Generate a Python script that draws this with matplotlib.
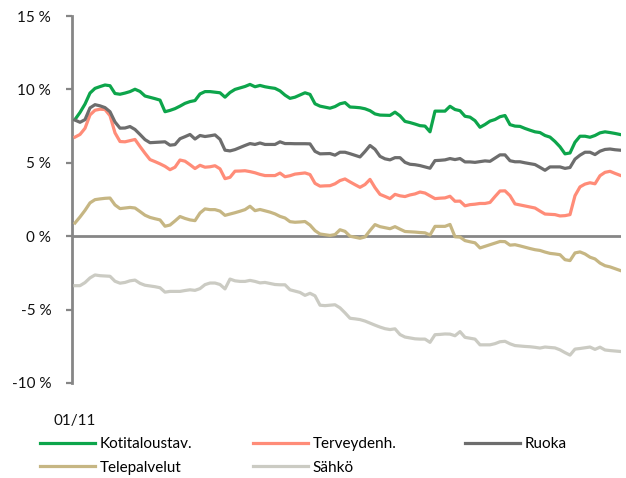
import numpy as np
import matplotlib
matplotlib.use("Agg")
import matplotlib.pyplot as plt

plt.rcParams['font.family'] = ['Lato', 'DejaVu Sans']

# ---- data (monthly, y/y %) ----
kotitaloustav = [7.95, 8.43, 9.0, 9.75, 10.07, 10.19, 10.3, 10.25, 9.72, 9.67,
                 9.75, 9.85, 10.01, 9.86, 9.55, 9.46, 9.37, 9.27, 8.48, 8.57,
                 8.69, 8.86, 9.05, 9.17, 9.24, 9.69, 9.85, 9.85, 9.81, 9.77,
                 9.47, 9.79, 10.0, 10.1, 10.2, 10.34, 10.18, 10.27, 10.18, 10.12,
                 10.07, 9.9, 9.61, 9.39, 9.47, 9.62, 9.77, 9.66, 9.02, 8.86,
                 8.79, 8.72, 8.83, 9.02, 9.1, 8.8, 8.78, 8.75, 8.68, 8.55,
                 8.33, 8.25, 8.24, 8.23, 8.45, 8.2, 7.82, 7.74, 7.64, 7.53,
                 7.5, 7.11, 8.52, 8.52, 8.52, 8.85, 8.63, 8.55, 8.17, 8.11,
                 7.87, 7.42, 7.61, 7.84, 7.95, 8.14, 8.22, 7.6, 7.5, 7.48,
                 7.34, 7.22, 7.11, 7.06, 6.86, 6.75, 6.45, 6.09, 5.61, 5.67,
                 6.4, 6.81, 6.81, 6.74, 6.86, 7.04, 7.11, 7.06, 7.0, 6.93]

terveydenh = [6.75, 6.93, 7.35, 8.26, 8.58, 8.65, 8.63, 8.21, 7.04, 6.45,
              6.43, 6.51, 6.59, 6.11, 5.65, 5.22, 5.08, 4.93, 4.76, 4.53,
              4.7, 5.19, 5.11, 4.87, 4.61, 4.83, 4.7, 4.73, 4.8, 4.59,
              3.92, 4.01, 4.43, 4.44, 4.46, 4.4, 4.32, 4.21, 4.13, 4.13,
              4.13, 4.3, 4.05, 4.12, 4.23, 4.27, 4.31, 4.2, 3.6, 3.41,
              3.43, 3.44, 3.57, 3.79, 3.9, 3.7, 3.51, 3.33, 3.52, 3.87,
              3.31, 2.85, 2.71, 2.56, 2.85, 2.75, 2.7, 2.81, 2.88, 3.01,
              2.94, 2.75, 2.56, 2.59, 2.61, 2.72, 2.38, 2.39, 2.07, 2.15,
              2.18, 2.23, 2.23, 2.3, 2.7, 3.08, 3.09, 2.76, 2.2, 2.13,
              2.06, 1.99, 1.92, 1.71, 1.51, 1.49, 1.47, 1.38, 1.4, 1.47,
              2.76, 3.36, 3.55, 3.64, 3.57, 4.12, 4.35, 4.42, 4.28, 4.15]

ruoka = [7.91, 7.76, 7.94, 8.74, 8.96, 8.88, 8.76, 8.48, 7.78, 7.36,
         7.37, 7.47, 7.27, 6.93, 6.58, 6.37, 6.39, 6.41, 6.43, 6.2,
         6.24, 6.64, 6.78, 6.93, 6.62, 6.86, 6.79, 6.84, 6.9, 6.6,
         5.86, 5.81, 5.9, 6.04, 6.18, 6.31, 6.25, 6.35, 6.25, 6.25,
         6.25, 6.43, 6.31, 6.31, 6.3, 6.3, 6.3, 6.29, 5.78, 5.61,
         5.62, 5.63, 5.52, 5.72, 5.72, 5.62, 5.51, 5.4, 5.77, 6.18,
         5.92, 5.44, 5.27, 5.2, 5.35, 5.35, 5.03, 4.9, 4.87, 4.81,
         4.72, 4.63, 5.15, 5.17, 5.2, 5.29, 5.22, 5.29, 5.06, 5.06,
         5.03, 5.08, 5.13, 5.1, 5.32, 5.54, 5.54, 5.14, 5.07, 5.07,
         5.0, 4.94, 4.88, 4.69, 4.49, 4.72, 4.72, 4.72, 4.62, 4.68,
         5.25, 5.52, 5.72, 5.72, 5.56, 5.79, 5.91, 5.94, 5.89, 5.86]

telepalvelut = [0.9, 1.31, 1.76, 2.27, 2.49, 2.54, 2.58, 2.6, 2.13, 1.88,
                1.92, 1.96, 1.92, 1.68, 1.43, 1.28, 1.19, 1.11, 0.68, 0.76,
                1.04, 1.34, 1.21, 1.11, 1.06, 1.58, 1.86, 1.81, 1.81, 1.71,
                1.42, 1.51, 1.6, 1.7, 1.81, 2.04, 1.74, 1.82, 1.73, 1.64,
                1.52, 1.35, 1.24, 0.99, 0.95, 0.97, 1.0, 0.76, 0.38, 0.15,
                0.1, 0.05, 0.11, 0.44, 0.33, 0.0, -0.07, -0.14, -0.05, 0.39,
                0.79, 0.65, 0.58, 0.51, 0.65, 0.48, 0.32, 0.3, 0.28, 0.25,
                0.23, 0.08, 0.67, 0.67, 0.67, 0.8, -0.04, -0.06, -0.3, -0.38,
                -0.45, -0.8, -0.69, -0.58, -0.47, -0.36, -0.37, -0.61, -0.58, -0.66,
                -0.75, -0.84, -0.92, -0.97, -1.08, -1.17, -1.21, -1.26, -1.6, -1.66,
                -1.14, -1.07, -1.21, -1.43, -1.55, -1.83, -2.01, -2.09, -2.21, -2.33]

sahko = [-3.37, -3.37, -3.16, -2.84, -2.64, -2.69, -2.71, -2.73, -3.07, -3.2,
         -3.15, -3.04, -2.99, -3.21, -3.34, -3.39, -3.44, -3.51, -3.81, -3.76,
         -3.76, -3.76, -3.7, -3.65, -3.69, -3.57, -3.3, -3.19, -3.19, -3.29,
         -3.59, -2.92, -3.04, -3.08, -3.08, -3.01, -3.08, -3.18, -3.15, -3.22,
         -3.29, -3.31, -3.31, -3.65, -3.74, -3.83, -4.03, -3.89, -4.06, -4.7,
         -4.73, -4.7, -4.67, -4.88, -5.22, -5.59, -5.63, -5.68, -5.78, -5.92,
         -6.06, -6.19, -6.3, -6.36, -6.31, -6.7, -6.87, -6.93, -6.99, -7.01,
         -7.01, -7.23, -6.71, -6.69, -6.66, -6.67, -6.78, -6.5, -6.89, -6.95,
         -7.01, -7.4, -7.4, -7.4, -7.32, -7.19, -7.16, -7.33, -7.45, -7.48,
         -7.51, -7.53, -7.57, -7.62, -7.55, -7.58, -7.61, -7.74, -7.93, -8.1,
         -7.69, -7.65, -7.6, -7.55, -7.71, -7.56, -7.75, -7.79, -7.82, -7.85]

series_names = ['Kotitaloustav.', 'Terveydenh.', 'Ruoka', 'Telepalvelut', 'Sähkö']
y_ticks = [-10, -5, 0, 5, 10, 15]
y_tick_labels = ['-10 %', '-5 %', '0 %', '5 %', '10 %', '15 %']
x_tick_labels = ['01/11']

colors = ['#0DA54B', '#FF8C78', '#6D6D6D', '#C6B683', '#CBCBC3']

months = np.arange(len(kotitaloustav))

fig = plt.figure(figsize=(6.26, 4.78), dpi=100)
W, H = 626, 478
ax = fig.add_axes([72 / W, 1 - 383 / H, 549 / W, 367 / H])

axis_col = '#868686'
ax.axhline(0, color=axis_col, lw=2.0, zorder=1.5)

lines = []
for vals, name, c in zip([kotitaloustav, terveydenh, ruoka, telepalvelut, sahko],
                         series_names, colors):
    ln, = ax.plot(months, vals, color=c, lw=2.3, label=name, zorder=3,
                  solid_joinstyle='round')
    lines.append(ln)

ax.set_xlim(-0.6, 109.2)
ax.set_ylim(-10, 15)

for s in ['top', 'right', 'bottom']:
    ax.spines[s].set_visible(False)
ax.spines['left'].set_color(axis_col)
ax.spines['left'].set_linewidth(2.0)

ax.set_yticks(y_ticks)
ax.set_yticklabels(y_tick_labels)
ax.tick_params(axis='y', length=4, width=1.6, color=axis_col, pad=11,
               labelsize=11, labelcolor='#111111')
ax.set_xticks([0])
ax.set_xticklabels(x_tick_labels)
ax.tick_params(axis='x', length=0, pad=22, labelsize=11, labelcolor='#111111')

# legend laid out in three columns (row-major order as in the original)
cols = [([lines[0], lines[3]], 40, 1 - 456 / H),
        ([lines[1], lines[4]], 253, 1 - 456 / H),
        ([lines[2]], 465, 1 - 444 / H)]
for hs, xpx, yf in cols:
    fig.legend(hs, [h.get_label() for h in hs], loc='center left',
               bbox_to_anchor=(xpx / W, yf), frameon=False, fontsize=11,
               handlelength=3.6, handletextpad=0.3, borderpad=0,
               borderaxespad=0, labelspacing=0.62)

fig.savefig('out.png', dpi=100)
